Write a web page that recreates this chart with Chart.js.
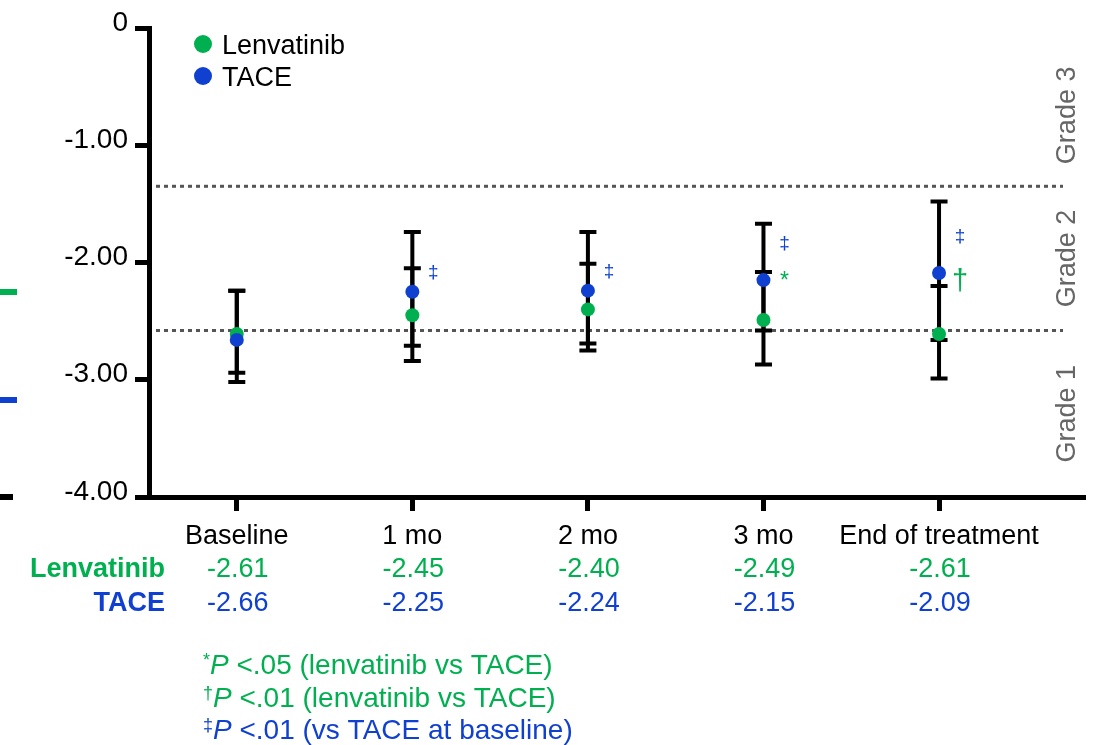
<!DOCTYPE html>
<html>
<head>
<meta charset="utf-8">
<script src="https://cdn.jsdelivr.net/npm/chart.js@4.4.1/dist/chart.umd.min.js"></script>
<style>
  html, body { margin: 0; padding: 0; background: #ffffff; }
  canvas { display: block; }
</style>
</head>
<body>
<canvas id="chart" width="1097" height="745"></canvas>
<script>
// ---------------- data ----------------
const categories = ['Baseline', '1 mo', '2 mo', '3 mo', 'End of treatment'];
const seriesNames = ['Lenvatinib', 'TACE'];
const lenvatinibMean  = [-2.61, -2.45, -2.40, -2.49, -2.61];
const taceMean        = [-2.66, -2.25, -2.24, -2.15, -2.09];
const lenvatinibUpper = [-2.24, -2.05, -2.01, -2.08, -2.20];
const lenvatinibLower = [-2.94, -2.84, -2.75, -2.87, -2.99];
const taceUpper       = [-2.24, -1.74, -1.74, -1.67, -1.48];
const taceLower       = [-3.02, -2.71, -2.69, -2.58, -2.66];
const lenvatinibMarks = ['', '', '', '*', '\u2020'];
const taceMarks       = ['', '\u2021', '\u2021', '\u2021', '\u2021'];
const gradeCutoffs    = [-2.58, -1.35];
const gradeLabels     = ['Grade 1', 'Grade 2', 'Grade 3'];
const yTickValues     = [0, -1, -2, -3, -4];
const footnotes = [
  { sym: '*',      rest: ' <.05 (lenvatinib vs TACE)', series: 0 },
  { sym: '\u2020', rest: ' <.01 (lenvatinib vs TACE)', series: 0 },
  { sym: '\u2021', rest: ' <.01 (vs TACE at baseline)', series: 1 }
];
const edgeMarks = [
  { value: -2.25, series: 0 },
  { value: -3.17, series: 1 },
  { value: -4.00, series: -1 }
];

// ---------------- styles ----------------
const GREEN = '#00b050';
const BLUE = '#1040d0';
const COLORS = [GREEN, BLUE];
const FONT = '"Liberation Sans", Arial, Helvetica, sans-serif';
const FS = 27;

function font(size, weight, style) {
  return (style || 'normal') + ' ' + (weight || 'normal') + ' ' + size + 'px ' + FONT;
}

const decorPlugin = {
  id: 'decor',
  beforeDatasetsDraw(chart) {
    const { ctx, chartArea: a, scales: { x, y } } = chart;
    ctx.save();
    // grade cut-off dotted lines
    ctx.strokeStyle = '#555555';
    ctx.lineWidth = 3;
    ctx.setLineDash([4, 4]);
    gradeCutoffs.forEach(v => {
      const py = y.getPixelForValue(v);
      ctx.beginPath();
      ctx.moveTo(a.left + 7, py);
      ctx.lineTo(a.right - 20, py);
      ctx.stroke();
    });
    ctx.setLineDash([]);
    // error bars
    ctx.strokeStyle = '#000000';
    ctx.lineWidth = 4;
    const bars = [[lenvatinibUpper, lenvatinibLower], [taceUpper, taceLower]];
    bars.forEach(([up, lo]) => {
      up.forEach((u, i) => {
        const px = x.getPixelForValue(i);
        const pu = y.getPixelForValue(u);
        const pl = y.getPixelForValue(lo[i]);
        ctx.beginPath();
        ctx.moveTo(px, pu); ctx.lineTo(px, pl);
        ctx.moveTo(px - 8.5, pu); ctx.lineTo(px + 8.5, pu);
        ctx.moveTo(px - 8.5, pl); ctx.lineTo(px + 8.5, pl);
        ctx.stroke();
      });
    });
    ctx.restore();
  },
  afterDraw(chart) {
    const { ctx, chartArea: a, scales: { x, y } } = chart;
    ctx.save();
    // legend
    seriesNames.forEach((name, i) => {
      const cy = a.top + 16 + i * 32;
      ctx.fillStyle = COLORS[i];
      ctx.beginPath();
      ctx.arc(a.left + 54, cy, 9, 0, Math.PI * 2);
      ctx.fill();
      ctx.fillStyle = '#000';
      ctx.font = font(FS);
      ctx.textAlign = 'left';
      ctx.textBaseline = 'alphabetic';
      ctx.fillText(name, a.left + 73, cy + 9.5);
    });
    // value rows and row labels
    const means = [lenvatinibMean, taceMean];
    means.forEach((arr, s) => {
      const base = a.bottom + 80 + s * 33.5;
      ctx.fillStyle = COLORS[s];
      ctx.textBaseline = 'alphabetic';
      ctx.font = font(FS, 'bold');
      ctx.textAlign = 'right';
      ctx.fillText(seriesNames[s], a.left + 16, base);
      ctx.font = font(FS);
      ctx.textAlign = 'center';
      arr.forEach((v, i) => ctx.fillText(v.toFixed(2), x.getPixelForValue(i) + 1, base));
    });
    // significance marks
    ctx.textAlign = 'center';
    ctx.textBaseline = 'middle';
    categories.forEach((c, i) => {
      const px = x.getPixelForValue(i) + 21;
      const ty = y.getPixelForValue(taceMean[i]);
      const lm = lenvatinibMarks[i];
      if (taceMarks[i]) {
        ctx.fillStyle = BLUE;
        ctx.font = font(19);
        ctx.fillText(taceMarks[i], px, ty - (lm ? 36 : 19));
      }
      if (lm) {
        ctx.fillStyle = GREEN;
        if (lm === '*') { ctx.font = font(23); ctx.fillText(lm, px, ty + 2); }
        else { ctx.font = font(29); ctx.fillText(lm, px, ty + 9); }
      }
    });
    // grade labels (rotated)
    const bounds = [y.min].concat(gradeCutoffs, [y.max]);
    ctx.fillStyle = '#666666';
    ctx.font = font(FS);
    gradeLabels.forEach((g, i) => {
      let top = bounds[i + 1];
      if (i === gradeLabels.length - 1) top = bounds[i + 1] - 0.14;
      const mid = y.getPixelForValue((bounds[i] + top) / 2);
      ctx.save();
      ctx.translate(a.right - 15, mid);
      ctx.rotate(-Math.PI / 2);
      ctx.textAlign = 'center';
      ctx.textBaseline = 'middle';
      ctx.fillText(g, 0, 0);
      ctx.restore();
    });
    // footnotes
    ctx.textAlign = 'left';
    ctx.textBaseline = 'alphabetic';
    footnotes.forEach((f, i) => {
      const base = a.bottom + 177 + i * 32.5;
      let cx = a.left + 54;
      ctx.fillStyle = COLORS[f.series];
      ctx.font = font(18);
      ctx.fillText(f.sym, cx, base - 8);
      cx += ctx.measureText(f.sym).width;
      ctx.font = font(28, 'normal', 'italic');
      ctx.fillText('P', cx, base);
      cx += ctx.measureText('P').width;
      ctx.font = font(28);
      ctx.fillText(f.rest, cx, base);
    });
    // left edge marks
    edgeMarks.forEach(m => {
      const py = y.getPixelForValue(m.value);
      ctx.fillStyle = m.series >= 0 ? COLORS[m.series] : '#000';
      ctx.fillRect(0, Math.round(py - 3), m.series >= 0 ? 17 : 13, 6);
    });
    ctx.restore();
  }
};

const ctx = document.getElementById('chart').getContext('2d');
new Chart(ctx, {
  type: 'scatter',
  data: {
    datasets: [
      {
        label: seriesNames[0],
        data: lenvatinibMean.map((v, i) => ({ x: i, y: v })),
        backgroundColor: GREEN,
        borderColor: GREEN,
        pointRadius: 7,
        pointHoverRadius: 7,
        pointBorderWidth: 0,
        order: 2
      },
      {
        label: seriesNames[1],
        data: taceMean.map((v, i) => ({ x: i, y: v })),
        backgroundColor: BLUE,
        borderColor: BLUE,
        pointRadius: 7,
        pointHoverRadius: 7,
        pointBorderWidth: 0,
        order: 1
      }
    ]
  },
  options: {
    responsive: false,
    animation: false,
    layout: { padding: { top: 28, right: 14, left: 0, bottom: 0 } },
    plugins: { legend: { display: false }, tooltip: { enabled: false } },
    scales: {
      x: {
        type: 'linear',
        min: -0.5,
        max: 4.82,
        afterBuildTicks: s => { s.ticks = categories.map((c, i) => ({ value: i })); },
        afterFit: s => { s.height = 248; },
        border: { display: true, color: '#000', width: 5 },
        grid: { display: true, drawOnChartArea: false, drawTicks: true, tickLength: 14, tickWidth: 5, color: '#000', lineWidth: 5 },
        ticks: {
          autoSkip: false,
          maxRotation: 0,
          padding: 9,
          color: '#000',
          font: { family: FONT, size: FS },
          callback: v => categories[v]
        }
      },
      y: {
        type: 'linear',
        min: -4,
        max: 0,
        afterBuildTicks: s => { s.ticks = yTickValues.slice().reverse().map(v => ({ value: v })); },
        afterFit: s => { s.width = 149; },
        border: { display: true, color: '#000', width: 5 },
        grid: { display: true, drawOnChartArea: false, drawTicks: true, tickLength: 14, tickWidth: 5, color: '#000', lineWidth: 5 },
        ticks: {
          padding: 7,
          labelOffset: -5,
          color: '#000',
          font: { family: FONT, size: 28 },
          callback: v => (v === 0 ? '0' : v.toFixed(2))
        }
      }
    }
  },
  plugins: [decorPlugin]
});
</script>
</body>
</html>
